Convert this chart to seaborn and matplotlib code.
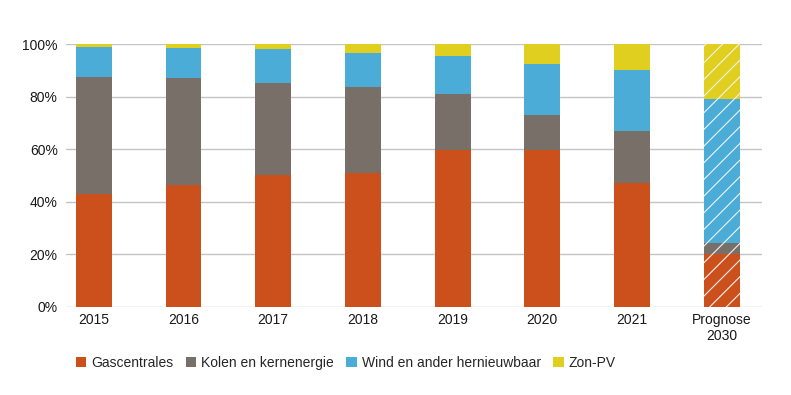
import numpy as np
import pandas as pd
import matplotlib
matplotlib.use("Agg")
import matplotlib.pyplot as plt
import seaborn as sns
from matplotlib.patches import Patch

jaren = ["2015", "2016", "2017", "2018", "2019", "2020", "2021", "Prognose\n2030"]
gas = [43.0, 46.4, 50.2, 51.0, 59.7, 59.7, 47.0, 20.0]
kolen = [44.5, 40.7, 35.0, 32.7, 21.3, 13.3, 19.8, 4.2]
wind = [11.5, 11.4, 12.9, 12.9, 14.4, 19.4, 23.3, 54.9]
zon = [1.0, 1.5, 1.9, 3.4, 4.6, 7.6, 9.9, 20.9]

bronnen = ["Gascentrales", "Kolen en kernenergie", "Wind en ander hernieuwbaar", "Zon-PV"]
kleuren = ["#CC501B", "#786F69", "#4BACD8", "#E0CF1F"]

sns.set_theme(style="white")
plt.rcParams["font.family"] = ["Liberation Sans", "DejaVu Sans"]
plt.rcParams["hatch.linewidth"] = 0.8

df = pd.DataFrame({"jaar": jaren, "Gascentrales": gas, "Kolen en kernenergie": kolen,
                   "Wind en ander hernieuwbaar": wind, "Zon-PV": zon})

fig = plt.figure(figsize=(7.91, 3.95), dpi=100)
ax = fig.add_axes([66 / 791, 1 - 307 / 395, (762 - 66) / 791, (307 - 44) / 395])

bodem = np.zeros(len(jaren))
for bron, kleur in zip(bronnen, kleuren):
    n_voor = len(ax.patches)
    sns.barplot(data=df, x="jaar", y=bron, color=kleur, width=0.4, bottom=bodem,
                saturation=1, ax=ax)
    nieuw = ax.patches[n_voor:]
    for p in nieuw:
        p.set_edgecolor(kleur)
        p.set_linewidth(0)
    # prognose gearceerd
    nieuw[-1].set_hatch("//")
    nieuw[-1].set_edgecolor("#F2F2F2")
    bodem = bodem + df[bron].to_numpy()

ax.set_ylim(0, 100)
ax.set_xlim(-0.31, 7.45)
ax.set_yticks([0, 20, 40, 60, 80, 100])
ax.set_yticklabels([f"{v}%" for v in [0, 20, 40, 60, 80, 100]])
ax.yaxis.grid(True, color="#C4C4C4", linewidth=1)
ax.set_axisbelow(True)
for s in ax.spines.values():
    s.set_visible(False)
ax.set_xlabel("")
ax.set_ylabel("")
ax.tick_params(axis="both", length=0, labelsize=10, colors="#1A1A1A")
ax.tick_params(axis="y", pad=6)
ax.tick_params(axis="x", pad=4)

handles = [Patch(facecolor=k, edgecolor="none") for k in kleuren]
fig.legend(handles, bronnen, loc="center left", bbox_to_anchor=(76 / 791, 1 - 363 / 395),
           ncol=4, frameon=False, fontsize=10, handlelength=0.75, handleheight=0.75,
           handletextpad=0.35, columnspacing=0.9, borderaxespad=0, borderpad=0)

fig.savefig("out.png", dpi=100)
